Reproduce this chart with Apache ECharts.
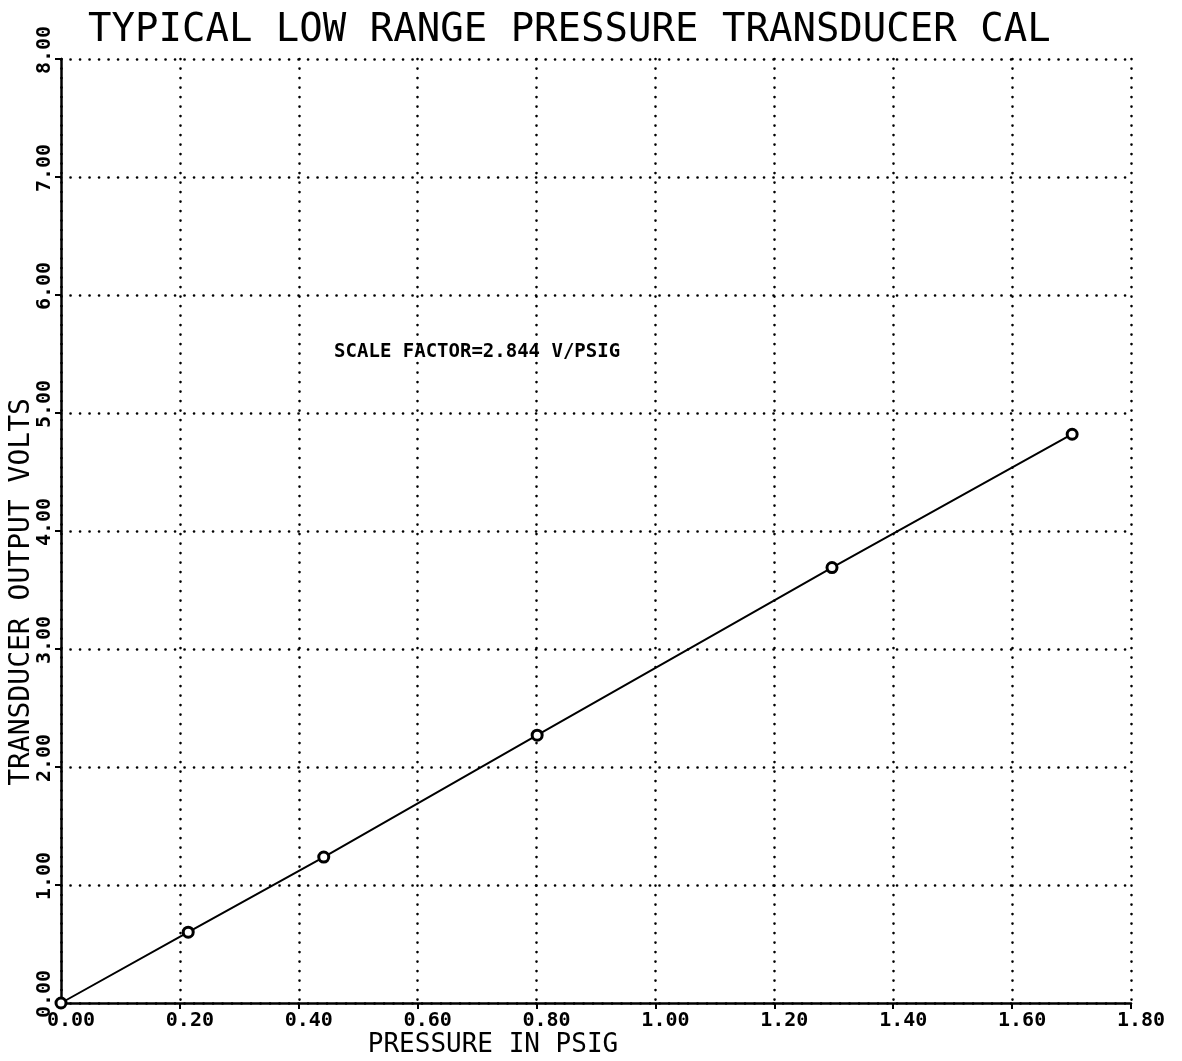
<!DOCTYPE html>
<html>
<head>
<meta charset="utf-8">
<script src="https://cdn.jsdelivr.net/npm/echarts@6/dist/echarts.min.js"></script>
<style>html,body{margin:0;padding:0;background:#fff}#c{width:1182px;height:1061px}</style>
</head>
<body>
<div id="c"></div>
<script>
const titleText = 'TYPICAL LOW RANGE PRESSURE TRANSDUCER CAL';
const xName = 'PRESSURE IN PSIG';
const yName = 'TRANSDUCER OUTPUT VOLTS';
const note = 'SCALE FACTOR=2.844 V/PSIG';
const pressure = [0.00, 0.214, 0.442, 0.801, 1.297, 1.701];
const volts = [0.00, 0.60, 1.237, 2.27, 3.69, 4.82];
const xTicks = [0, 1.8, 0.2];   // min, max, interval
const yTicks = [0, 8, 1];
const notePos = [0.70, 5.52];

const FONT = 'DejaVu Sans Mono';
const chart = echarts.init(document.getElementById('c'), null, {renderer: 'canvas'});
const dotted = {color: '#000', width: 2.6, type: [0.1, 9.4], cap: 'round'};
chart.setOption({
  backgroundColor: '#fff',
  animation: false,
  title: {
    text: titleText, left: 83, top: 6,
    textStyle: {fontFamily: FONT, fontSize: 39, fontWeight: 'normal', color: '#000'}
  },
  grid: {left: 61, right: 51, top: 59, bottom: 58, containLabel: false, outerBoundsMode: 'none'},
  xAxis: {
    type: 'value', min: xTicks[0], max: xTicks[1], interval: xTicks[2],
    name: xName, nameLocation: 'middle', nameGap: 29, nameMoveOverlap: false,
    nameTextStyle: {fontFamily: FONT, fontSize: 26, color: '#000', padding: [0, 206, 0, 0]},
    axisLine: {show: true, lineStyle: {color: '#000', width: 2.5}},
    axisTick: {show: true, length: 6, lineStyle: {color: '#000', width: 2}},
    axisLabel: {fontFamily: FONT, fontSize: 20, fontWeight: 'bold', color: '#000', margin: 8,
      padding: [0, 0, 0, 20], formatter: v => v.toFixed(2)},
    splitLine: {show: true, lineStyle: dotted}
  },
  yAxis: {
    type: 'value', min: yTicks[0], max: yTicks[1], interval: yTicks[2],
    name: yName, nameLocation: 'middle', nameGap: 25, nameRotate: 90, nameMoveOverlap: false,
    nameTextStyle: {fontFamily: FONT, fontSize: 28, color: '#000', padding: [0, 122, 0, 0]},
    axisLine: {show: true, lineStyle: {color: '#000', width: 2.5}},
    axisTick: {show: true, length: 6, lineStyle: {color: '#000', width: 2}},
    axisLabel: {fontFamily: FONT, fontSize: 20, fontWeight: 'bold', color: '#000', margin: 6,
      rotate: 90, padding: [0, 0, 0, 18], formatter: v => v.toFixed(2)},
    splitLine: {show: true, lineStyle: dotted}
  },
  series: [{
    type: 'line',
    data: pressure.map((p, i) => [p, volts[i]]),
    symbol: 'circle', symbolSize: 10,
    lineStyle: {color: '#000', width: 2},
    itemStyle: {color: '#fff', borderColor: '#000', borderWidth: 3},
    markPoint: {
      symbol: 'circle', symbolSize: 0,
      data: [{coord: notePos, value: note}],
      label: {show: true, formatter: note, position: 'inside',
        fontFamily: FONT, fontSize: 19, fontWeight: 'bold', color: '#000'}
    }
  }]
});
</script>
</body>
</html>
